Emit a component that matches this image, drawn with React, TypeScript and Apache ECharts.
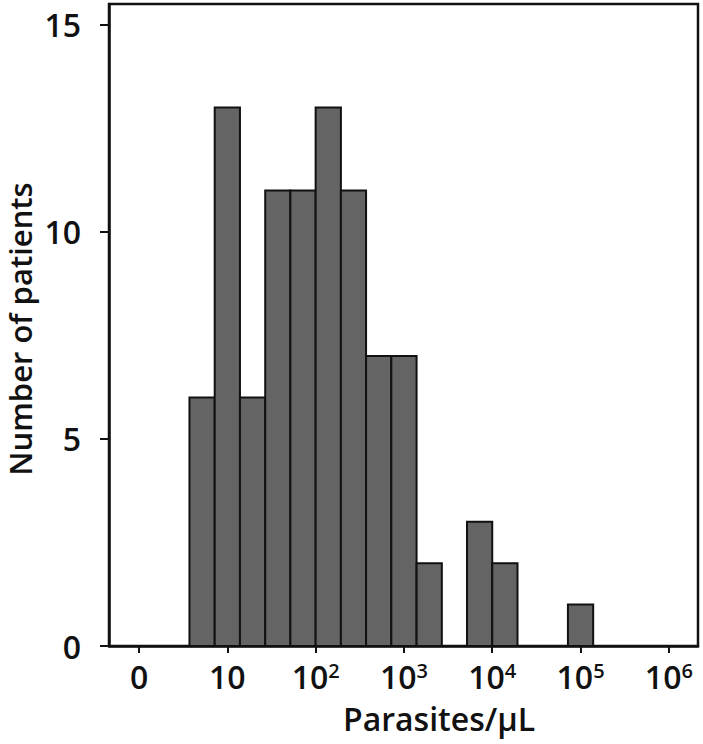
import React, { useEffect, useRef } from "react";
import * as echarts from "echarts";

// Histogram bin edges in log10(parasites/µL) units (0 ↔ "0", 1 ↔ 10, 2 ↔ 10², ...)
const binEdges = [0.571, 0.857, 1.143, 1.429, 1.714, 2.0, 2.286, 2.571, 2.857, 3.143, 3.429, 3.714, 4.0, 4.286, 4.571, 4.857, 5.143];
const counts = [6, 13, 6, 11, 11, 13, 11, 7, 7, 2, 0, 3, 2, 0, 0, 1];
const xTickValues = [0, 1, 2, 3, 4, 5, 6];
const yTickValues = [0, 5, 10, 15];
const xTitle = "Parasites/µL";
const yTitle = "Number of patients";

const FONT = "'Open Sans', 'Noto Sans', sans-serif";
const WEIGHT = 600;

export default function App() {
  const ref = useRef<HTMLDivElement>(null);
  useEffect(() => {
    document.body.style.margin = "0";
    if (!ref.current) return;
    const chart = echarts.init(ref.current, null, { renderer: "svg" });
    const data = counts.map((c, i) => [binEdges[i], binEdges[i + 1], c]);
    chart.setOption({
      animation: false,
      backgroundColor: "#ffffff",
      grid: {
        left: 109,
        right: 5,
        top: 4,
        bottom: 98,
        show: true,
        borderColor: "#111",
        borderWidth: 2.5,
        containLabel: false,
        outerBoundsMode: "none",
      },
      xAxis: {
        type: "value",
        min: -0.34,
        max: 6.33,
        splitLine: { show: false },
        axisLine: { show: true, onZero: false, lineStyle: { color: "#111", width: 2.5 } },
        axisTick: {
          show: true,
          customValues: xTickValues,
          length: 7,
          lineStyle: { color: "#111", width: 2 },
        },
        axisLabel: {
          customValues: xTickValues,
          margin: 14,
          fontSize: 32,
          fontWeight: WEIGHT,
          color: "#111",
          fontFamily: FONT,
          formatter: (v: number) => {
            if (v === 0) return "0";
            if (v === 1) return "10";
            return "10{sup|" + v + "}";
          },
          rich: {
            sup: { fontSize: 20, fontWeight: WEIGHT, color: "#111", fontFamily: FONT, verticalAlign: "top" },
          },
        },
      },
      yAxis: {
        type: "value",
        min: 0,
        max: 15.5,
        splitLine: { show: false },
        axisLine: { show: true, onZero: false, lineStyle: { color: "#111", width: 2.5 } },
        axisTick: {
          show: true,
          customValues: yTickValues,
          length: 9,
          lineStyle: { color: "#111", width: 2 },
        },
        axisLabel: {
          customValues: yTickValues,
          margin: 28,
          fontSize: 32,
          fontWeight: WEIGHT,
          color: "#111",
          fontFamily: FONT,
        },
      },
      graphic: [
        {
          type: "text",
          x: 439,
          y: 718,
          style: {
            text: xTitle,
            fontSize: 32,
            fontWeight: WEIGHT,
            fontFamily: FONT,
            fill: "#111",
            align: "center",
            verticalAlign: "middle",
          },
        },
        {
          type: "text",
          x: 20,
          y: 329,
          rotation: Math.PI / 2,
          style: {
            text: yTitle,
            fontSize: 31,
            fontWeight: WEIGHT,
            fontFamily: FONT,
            fill: "#111",
            align: "center",
            verticalAlign: "middle",
          },
        },
      ],
      series: [
        {
          type: "custom",
          data,
          encode: { x: [0, 1], y: 2 },
          renderItem: (params: any, api: any) => {
            const lo = api.value(0);
            const hi = api.value(1);
            const c = api.value(2);
            if (!c) return null;
            const p0 = api.coord([lo, c]);
            const p1 = api.coord([hi, 0]);
            return {
              type: "rect",
              shape: { x: p0[0], y: p0[1], width: p1[0] - p0[0], height: p1[1] - p0[1] },
              style: { fill: "#646464", stroke: "#111", lineWidth: 2 },
            };
          },
        },
      ],
    });
    return () => chart.dispose();
  }, []);
  return <div ref={ref} style={{ width: 703, height: 744 }} />;
}
